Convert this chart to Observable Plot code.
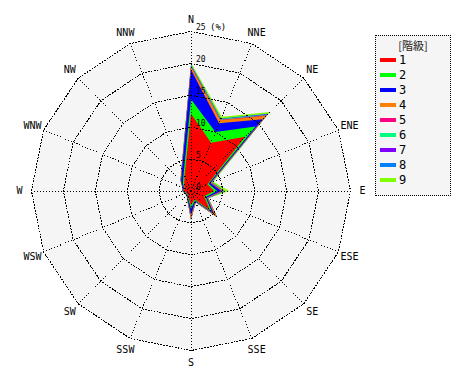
<!DOCTYPE html>
<html><head><meta charset="utf-8">
<script src="https://cdn.jsdelivr.net/npm/d3@7"></script>
<script src="https://cdn.jsdelivr.net/npm/@observablehq/plot@0.6"></script>
<style>
body{margin:0;background:#fff;}
#wrap{position:relative;width:470px;height:380px;}
#legend{position:absolute;left:375px;top:35px;width:76px;height:161px;border:1px dotted #000;background:#f5f5f5;box-sizing:border-box;}
#legend .title{position:absolute;left:0;width:100%;top:1px;text-align:center;font-family:"Noto Sans CJK JP",sans-serif;font-size:11px;line-height:16px;color:#222;}
#legend .sw{position:absolute;left:4px;width:16px;height:4px;}
#legend .lb{position:absolute;left:23px;font-family:"DejaVu Sans Mono",monospace;font-size:12px;line-height:12px;color:#000;}
</style></head><body><div id="wrap"></div>
<script>
const directions = ["N","NNE","NE","ENE","E","ESE","SE","SSE","S","SSW","SW","WSW","W","WNW","NW","NNW"];
const levels = ["1","2","3","4","5","6","7","8","9"];
const levelColors = ["#ff0000","#00ff00","#0000ff","#ff8000","#ff0080","#00ff80","#8000ff","#0080ff","#80ff00"];
const legendTitle = "[階級]";
// frequency (%) of each class per direction, order N..NNW
const level1 = [12.1, 8.2, 12.0, 2.8, 3.6, 2.2, 4.2, 1.4, 2.3, 1.0, 0.7, 0.8, 1.1, 1.1, 1.5, 2.6];
const level2 = [2.3, 1.8, 2.3, 0.2, 0.5, 0.3, 0.4, 0.2, 0.5, 0.2, 0.1, 0.1, 0.1, 0.1, 0.3, 0.4];
const level3 = [4.6, 1.5, 1.6, 0.3, 0.7, 0.2, 0.5, 0.2, 1.0, 0.2, 0.1, 0.1, 0.1, 0.2, 0.4, 0.7];
const level4 = [0.4, 0.5, 0.7, 0.1, 0.2, 0.1, 0.6, 0.05, 0.6, 0.1, 0.05, 0, 0.05, 0.05, 0.1, 0.1];
const level5 = [0.1, 0.1, 0.2, 0.05, 0.1, 0.05, 0, 0, 0, 0, 0, 0, 0, 0, 0, 0];
const level6 = [0.1, 0.1, 0.1, 0.05, 0.1, 0.05, 0.05, 0.05, 0.1, 0, 0, 0, 0, 0, 0, 0.05];
const level7 = [0.1, 0, 0.1, 0, 0, 0, 0, 0, 0, 0, 0, 0, 0, 0, 0, 0];
const level8 = [0.1, 0.1, 0.1, 0.05, 0.1, 0.05, 0.05, 0, 0, 0, 0, 0, 0, 0, 0, 0];
const level9 = [0.3, 0.3, 0.4, 0.25, 0.7, 0.05, 0, 0.05, 0.1, 0.1, 0.05, 0.05, 0.05, 0.05, 0.1, 0.15];
const ringValues = [5, 10, 15, 20, 25];
const tickValues = [0, 5, 10, 15, 20, 25];
const tickLabels = ["0", "5", "10", "15", "20", "25"];
const unitLabel = "(%)";

const series = [level1, level2, level3, level4, level5, level6, level7, level8, level9];
const R = 25, cx = 190.5, cy = 190.5, rad = 159.5;
const ang = i => i * 2 * Math.PI / directions.length;
const polar = (r, i) => ({x: r * Math.sin(ang(i)), y: r * Math.cos(ang(i))});

let cum = directions.map(() => 0);
const stacked = series.map((vals, k) => {
  cum = cum.map((c, i) => c + vals[i]);
  return cum.map((c, i) => ({level: levels[k], dir: directions[i], ...polar(c, i)}));
});
const rings = ringValues.map(v => directions.map((d, i) => ({ring: v, ...polar(v, i)})));
const outer = rings[rings.length - 1];
const dash = "1,2";

const marks = [
  Plot.line(outer, {x: "x", y: "y", curve: "linear-closed", fill: "#f5f5f5", stroke: "none"}),
  ...stacked.map((pts, k) => ({pts, k})).reverse().map(({pts, k}) =>
    Plot.line(pts, {x: "x", y: "y", curve: "linear-closed", fill: levelColors[k], stroke: "none"})),
  ...rings.map(r => Plot.line(r, {x: "x", y: "y", curve: "linear-closed", stroke: "#000", strokeWidth: 1, strokeDasharray: dash, shapeRendering: "crispEdges"})),
  Plot.link(directions, {x1: () => 0, y1: () => 0, x2: (d, i) => polar(R, i).x, y2: (d, i) => polar(R, i).y, stroke: "#000", strokeWidth: 1, strokeDasharray: dash, shapeRendering: "crispEdges"}),
  Plot.text(directions, {x: (d, i) => polar(R * 1.075, i).x, y: (d, i) => polar(R * 1.075, i).y, text: d => d, fontSize: 10, fontFamily: "DejaVu Sans Mono", fill: "#000"}),
  Plot.text(tickLabels, {x: () => 0, y: (d, i) => tickValues[i], text: d => d, textAnchor: "start", dx: 5, dy: -4, fontSize: 8, fontFamily: "DejaVu Sans Mono", fill: "#000"}),
  Plot.text([unitLabel], {x: () => 0, y: () => R, text: d => d, textAnchor: "start", dx: 19, dy: -4, fontSize: 9, fontFamily: "DejaVu Sans Mono", fill: "#000"})
];

const chart = Plot.plot({
  width: 470, height: 380,
  x: {domain: [-R, R], range: [cx - rad, cx + rad], axis: null},
  y: {domain: [-R, R], range: [cy + rad, cy - rad], axis: null},
  style: {background: "transparent", overflow: "visible"},
  marks
});
const wrap = document.getElementById("wrap");
wrap.appendChild(chart);

const lg = d3.select(wrap).append("div").attr("id", "legend");
lg.append("div").attr("class", "title").text(legendTitle);
levels.forEach((l, k) => {
  const y = 23 + k * 15;
  lg.append("div").attr("class", "sw").style("top", (y - 1) + "px").style("background", levelColors[k]);
  lg.append("div").attr("class", "lb").style("top", (y - 5) + "px").text(l);
});
</script>
</body></html>
